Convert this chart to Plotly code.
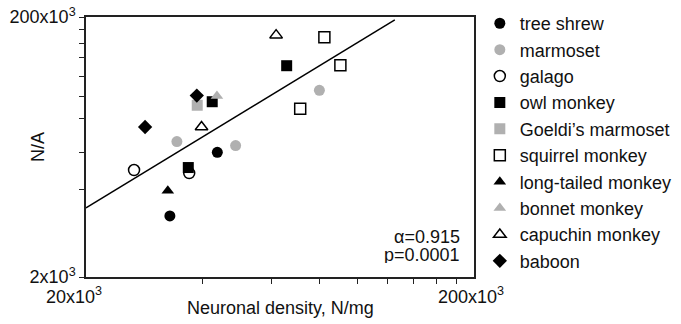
import plotly.graph_objects as go

# ---- data ----
species = ["tree shrew", "marmoset", "galago", "owl monkey", "Goeldi’s marmoset",
           "squirrel monkey", "long-tailed monkey", "bonnet monkey", "capuchin monkey", "baboon"]

tree_shrew_x = [43600, 32900]
tree_shrew_y = [18200, 5900]
marmoset_x = [34300, 48600, 79900]
marmoset_y = [22000, 20500, 54600]
galago_x = [26600, 36900]
galago_y = [13300, 12600]
owl_monkey_x = [36700, 42300, 65800]
owl_monkey_y = [13900, 44600, 84400]
goeldi_x = [38700]
goeldi_y = [41900]
squirrel_x = [82300, 90500, 71300]
squirrel_y = [139600, 85000, 39400]
long_tailed_x = [32500]
long_tailed_y = [9200]
bonnet_x = [43500]
bonnet_y = [49300]
capuchin_x = [61800, 39700]
capuchin_y = [145000, 28500]
baboon_x = [38600, 28400]
baboon_y = [49700, 28500]

fit_x = [20000, 125000]
fit_y = [6800, 190000]

x_minor_ticks = [40000, 60000, 80000, 100000, 120000, 140000, 160000, 180000]
y_minor_ticks = [9500, 18000, 33000, 49000, 70000, 97000, 126000, 159000]
x_end_labels = ["20x10<sup>3</sup>", "200x10<sup>3</sup>"]
y_end_ticks = [2000, 200000]
y_end_labels = ["2x10<sup>3</sup>", "200x10<sup>3</sup>"]

alpha_text = "α=0.915"
p_text = "p=0.0001"
x_title = "Neuronal density, N/mg"
y_title = "N/A"

BLACK = "#000000"
GRAY = "#b0b0b0"
WHITE = "#ffffff"
FONT = "Liberation Sans, Arial, sans-serif"
TXT = "#111111"

series = [
    (species[0], tree_shrew_x, tree_shrew_y, "circle", BLACK, BLACK),
    (species[1], marmoset_x, marmoset_y, "circle", GRAY, GRAY),
    (species[2], galago_x, galago_y, "circle", WHITE, BLACK),
    (species[3], owl_monkey_x, owl_monkey_y, "square", BLACK, BLACK),
    (species[4], goeldi_x, goeldi_y, "square", GRAY, GRAY),
    (species[5], squirrel_x, squirrel_y, "square", WHITE, BLACK),
    (species[6], long_tailed_x, long_tailed_y, "triangle-up", BLACK, BLACK),
    (species[7], bonnet_x, bonnet_y, "triangle-up", GRAY, GRAY),
    (species[8], capuchin_x, capuchin_y, "triangle-up", WHITE, BLACK),
    (species[9], baboon_x, baboon_y, "diamond", BLACK, BLACK),
]

fig = go.Figure()
fig.add_trace(go.Scatter(x=fit_x, y=fit_y, mode="lines",
                         line=dict(color=BLACK, width=1.5), showlegend=False,
                         hoverinfo="skip"))

for name, xs, ys, sym, fill, edge in series:
    fig.add_trace(go.Scatter(
        x=xs, y=ys, mode="markers", name=name,
        marker=dict(symbol=sym, size=11, color=fill,
                    line=dict(color=edge, width=1.5 if fill == WHITE else 0)),
    ))

annotations = [
    dict(x=0, xref="paper", y=0, yref="paper", text=x_end_labels[0],
         showarrow=False, xanchor="center", yanchor="top", yshift=-5, xshift=-12,
         font=dict(family=FONT, size=18, color=TXT)),
    dict(x=1, xref="paper", y=0, yref="paper", text=x_end_labels[1],
         showarrow=False, xanchor="center", yanchor="top", yshift=-5, xshift=-3,
         font=dict(family=FONT, size=18, color=TXT)),
    dict(x=0.5, xref="paper", y=-0.12, yref="paper", text=x_title, showarrow=False,
         xanchor="center", yanchor="middle", font=dict(family=FONT, size=18, color=TXT)),
    dict(x=-0.124, xref="paper", y=0.5, yref="paper", text=y_title, showarrow=False,
         textangle=-90, xanchor="center", yanchor="middle",
         font=dict(family=FONT, size=18, color=TXT)),
    dict(x=0.969, xref="paper", y=0.154, yref="paper", text=alpha_text, showarrow=False,
         xanchor="right", yanchor="middle", height=17, valign="middle",
         font=dict(family=FONT, size=18, color=TXT)),
    dict(x=0.969, xref="paper", y=0.088, yref="paper", text=p_text, showarrow=False,
         xanchor="right", yanchor="middle", height=17, valign="middle",
         font=dict(family=FONT, size=18, color=TXT)),
]

fig.update_layout(
    width=681, height=324,
    margin=dict(l=86, r=207, t=17, b=47, autoexpand=False),
    paper_bgcolor="white", plot_bgcolor="white",
    font=dict(family=FONT, size=18, color=TXT),
    showlegend=True,
    legend=dict(x=1.015, xanchor="left", y=1.046, yanchor="top",
                font=dict(family=FONT, size=18, color=TXT),
                bgcolor="rgba(0,0,0,0)", itemwidth=30, tracegroupgap=0,
                maxheight=400),
    annotations=annotations,
)
fig.update_xaxes(type="log", range=[4.30103, 5.30103],
                 tickvals=x_minor_ticks, ticktext=[""] * len(x_minor_ticks),
                 ticks="outside", ticklen=5, tickwidth=1.2, tickcolor="#222",
                 showline=True, linecolor="#222", linewidth=1.5, mirror=True,
                 showgrid=False, zeroline=False)
fig.update_yaxes(type="log", range=[3.30103, 5.30103],
                 tickvals=y_end_ticks + y_minor_ticks,
                 ticktext=y_end_labels + [""] * len(y_minor_ticks),
                 ticks="outside", ticklen=5, tickwidth=1.2, tickcolor="#222",
                 tickfont=dict(family=FONT, size=18, color=TXT),
                 showline=True, linecolor="#222", linewidth=1.5, mirror=True,
                 showgrid=False, zeroline=False)

fig.write_html("out.html", config={"displayModeBar": False},
               post_script="document.body.style.margin='0px';document.body.style.overflow='hidden';")
